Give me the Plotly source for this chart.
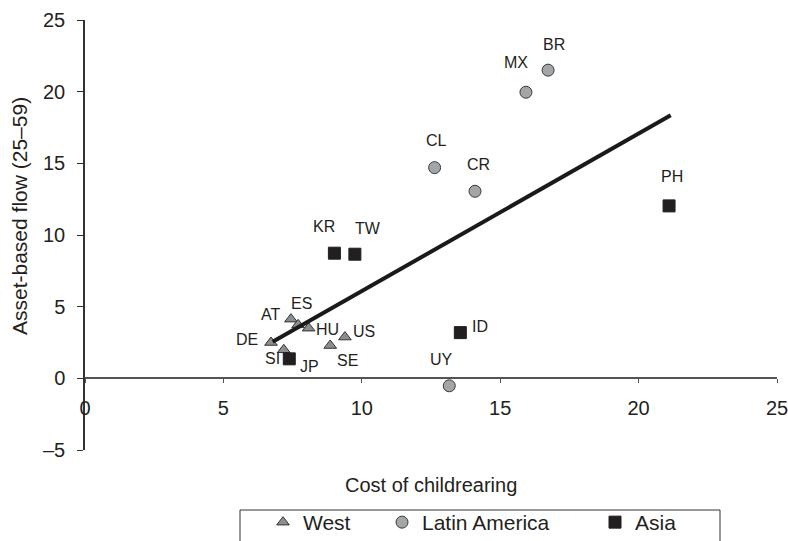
import plotly.graph_objects as go

# ---- data ----
west_codes = ["DE", "AT", "ES", "HU", "SE", "US", "SI"]
west_cost = [6.72, 7.44, 7.70, 8.08, 8.86, 9.39, 7.18]
west_flow = [2.50, 4.13, 3.73, 3.50, 2.29, 2.88, 1.99]

latam_codes = ["BR", "MX", "CL", "CR", "UY"]
latam_cost = [16.73, 15.93, 12.63, 14.09, 13.16]
latam_flow = [21.50, 19.96, 14.70, 13.05, -0.52]

asia_codes = ["JP", "KR", "TW", "ID", "PH"]
asia_cost = [7.38, 9.01, 9.75, 13.56, 21.10]
asia_flow = [1.36, 8.73, 8.66, 3.19, 12.03]

trend_cost = [6.78, 21.16]
trend_flow = [2.55, 18.35]

x_ticks = [0, 5, 10, 15, 20, 25]
x_ticklabels = ["0", "5", "10", "15", "20", "25"]
y_ticks = [-5, 0, 5, 10, 15, 20, 25]
y_ticklabels = ["–5", "0", "5", "10", "15", "20", "25"]

# ---- label offsets (pixels, dx right, dy down) ----
label_offsets = {
    "DE": (-24, -3), "AT": (-20, -5), "ES": (3, -21), "HU": (19, 1),
    "US": (19, -6), "SE": (17, 15), "SI": (-11, 9), "JP": (20, 8),
    "KR": (-10, -27), "TW": (13, -26), "ID": (20, -6), "UY": (-8, -26),
    "PH": (3, -29), "BR": (6, -26), "MX": (-10, -30), "CL": (2, -27),
    "CR": (3, -27),
}

FONT = "Liberation Sans, Arial, Helvetica, sans-serif"
INK = "#231f20"

W, H = 788, 541
ML, MR, MT, MB = 85, 11, 20, 91
PW, PH_ = W - ML - MR, H - MT - MB


def px_x(p):
    return (p - ML) / PW


def px_y(p):
    return (H - MB - p) / PH_


fig = go.Figure()
fig.add_trace(go.Scatter(
    x=west_cost, y=west_flow, mode="markers", name="West",
    marker=dict(symbol="triangle-up", size=11, color="#8e8e8e",
                line=dict(color="#333333", width=1)),
    legendwidth=74,
))
fig.add_trace(go.Scatter(
    x=latam_cost, y=latam_flow, mode="markers", name="Latin America",
    marker=dict(symbol="circle", size=12, color="#a3a6a9",
                line=dict(color="#3a3a3a", width=1)),
    legendwidth=168,
))
fig.add_trace(go.Scatter(
    x=asia_cost, y=asia_flow, mode="markers", name="Asia",
    marker=dict(symbol="square", size=12, color=INK,
                line=dict(color=INK, width=1)),
    legendwidth=83,
))
fig.add_trace(go.Scatter(
    x=trend_cost, y=trend_flow, mode="lines", showlegend=False,
    line=dict(color="#1a1a1a", width=4), hoverinfo="skip",
))

annotations = []
for codes, xs, ys in [(west_codes, west_cost, west_flow),
                      (latam_codes, latam_cost, latam_flow),
                      (asia_codes, asia_cost, asia_flow)]:
    for c, xv, yv in zip(codes, xs, ys):
        dx, dy = label_offsets[c]
        annotations.append(dict(
            x=xv, y=yv, xref="x", yref="y", text=c, showarrow=False,
            xshift=dx, yshift=-dy, font=dict(family=FONT, size=16, color=INK),
        ))

annotations.append(dict(
    x=px_x(431), y=px_y(485), xref="paper", yref="paper", text="Cost of childrearing",
    showarrow=False, xanchor="center", yanchor="middle",
    font=dict(family=FONT, size=20, color=INK),
))
annotations.append(dict(
    x=px_x(20), y=px_y(216), xref="paper", yref="paper", text="Asset-based flow (25–59)",
    showarrow=False, textangle=-90, xanchor="center", yanchor="middle",
    font=dict(family=FONT, size=21, color=INK),
))

# legend frame (runs off the bottom edge, as in the reference)
shapes = [dict(
    type="rect", xref="paper", yref="paper",
    x0=px_x(240), x1=px_x(720), y0=px_y(510), y1=px_y(560),
    line=dict(color="#333333", width=1), fillcolor="rgba(0,0,0,0)", layer="above",
)]

fig.update_layout(
    width=W, height=H,
    margin=dict(l=ML, r=MR, t=MT, b=MB),
    paper_bgcolor="white", plot_bgcolor="white",
    font=dict(family=FONT, size=20, color=INK),
    annotations=annotations,
    shapes=shapes,
    showlegend=True,
    legend=dict(
        orientation="h", x=263 / W, xanchor="left",
        y=(H - 502) / H, yanchor="top",
        xref="container", yref="container",
        borderwidth=0, bgcolor="rgba(0,0,0,0)",
        font=dict(family=FONT, size=21, color=INK),
        itemwidth=30,
    ),
    xaxis=dict(
        range=[0, 25], anchor="free", position=5 / 30, automargin=False,
        showline=True, linecolor="#555555", linewidth=1.5,
        ticks="outside", ticklen=4, tickcolor="#555555", tickwidth=1,
        tickvals=x_ticks, ticktext=x_ticklabels,
        ticklabelstandoff=8, ticklabeloverflow="allow",
        showgrid=False, zeroline=False,
        tickfont=dict(family=FONT, size=20, color=INK),
    ),
    yaxis=dict(
        range=[-5, 25], domain=[0, 1], automargin=False,
        showline=True, linecolor="#333333", linewidth=1.5,
        ticks="outside", ticklen=6, tickcolor="#333333", tickwidth=1,
        tickvals=y_ticks, ticktext=y_ticklabels,
        ticklabelstandoff=8, ticklabeloverflow="allow",
        showgrid=False, zeroline=False,
        tickfont=dict(family=FONT, size=20, color=INK),
    ),
)

fig.write_html(
    "out.html",
    config={"displayModeBar": False},
    post_script="document.body.style.margin='0';document.body.style.overflow='hidden';",
)
